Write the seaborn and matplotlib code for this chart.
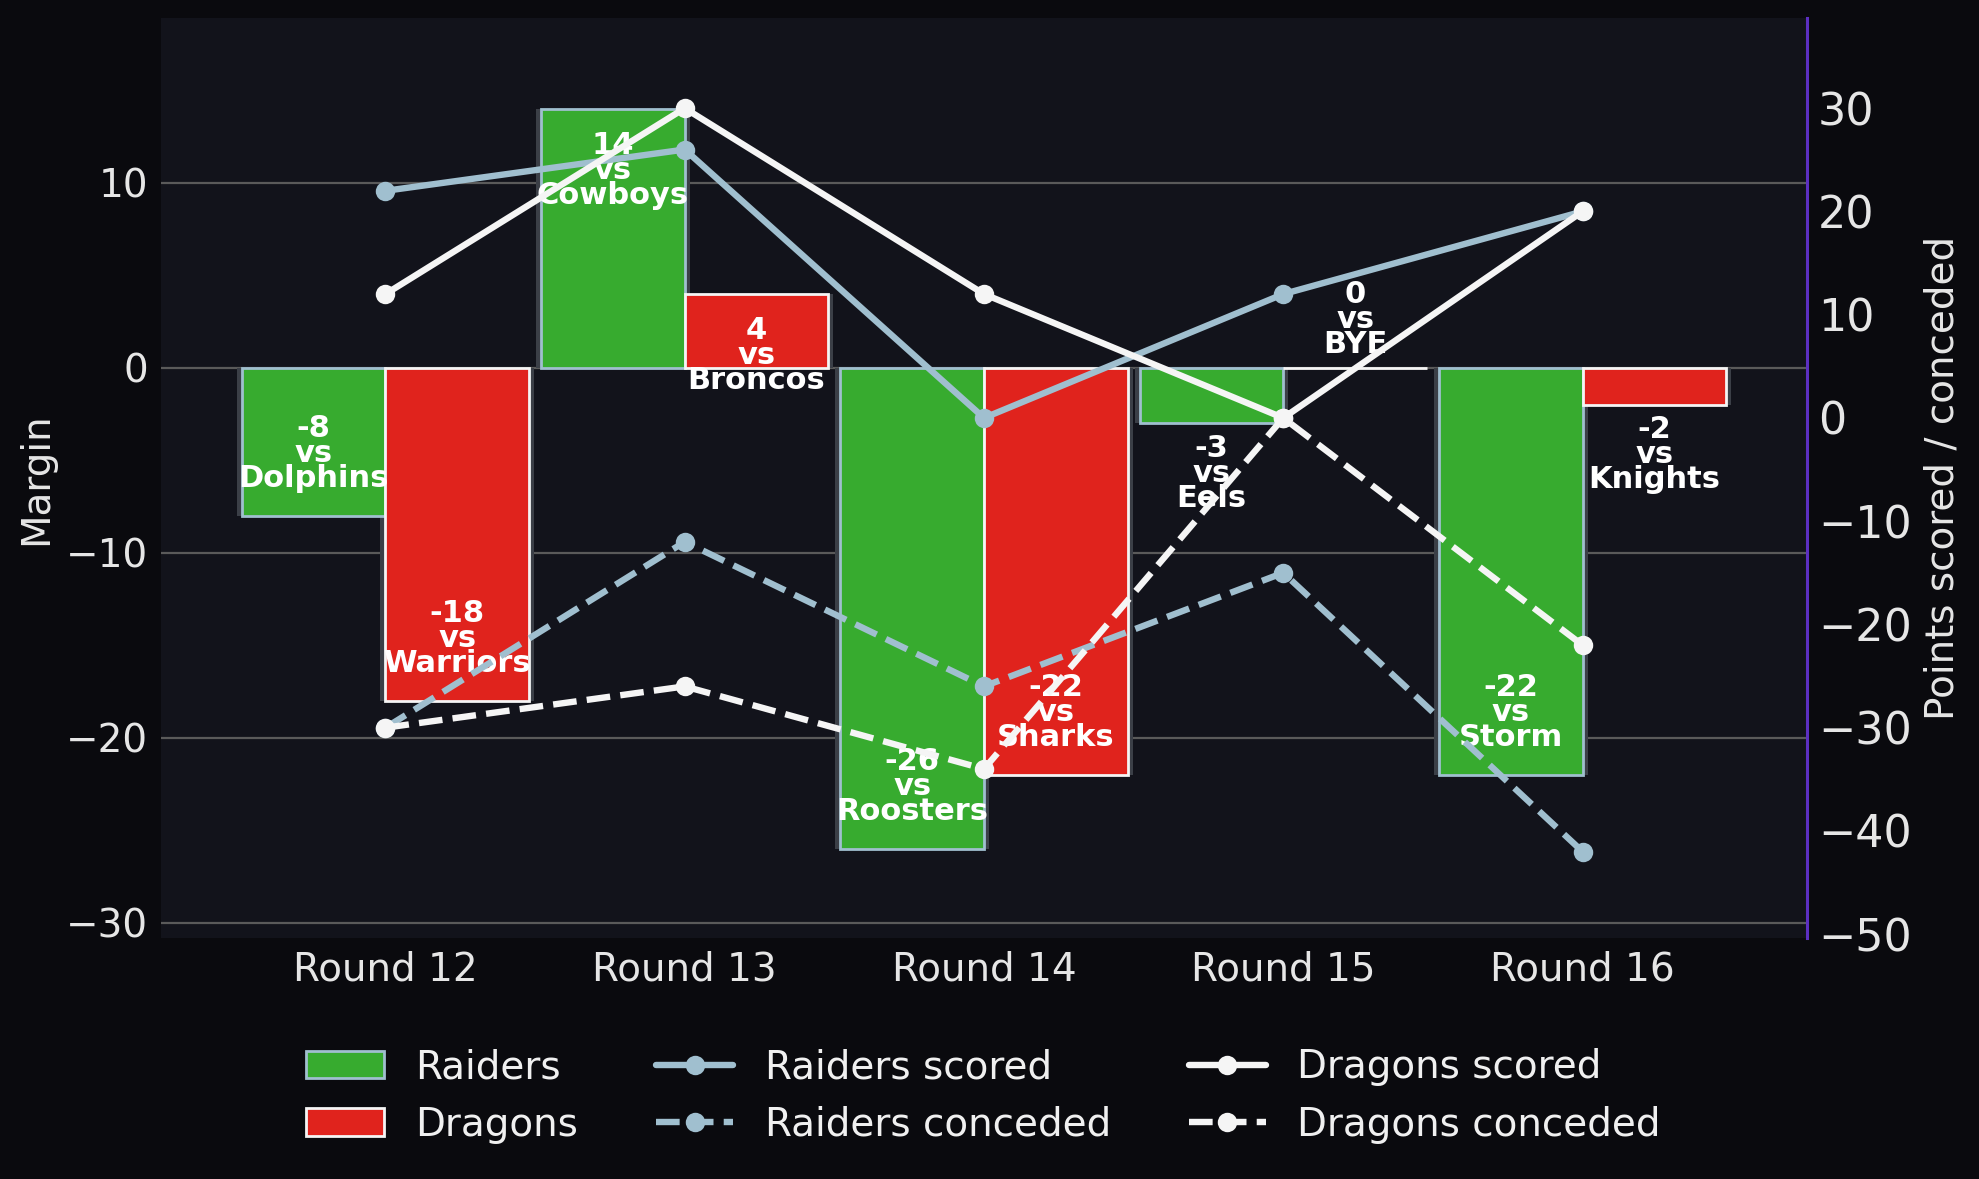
import numpy as np
import pandas as pd
import matplotlib
matplotlib.use("Agg")
import matplotlib.pyplot as plt
from matplotlib.patches import Patch, Rectangle
from matplotlib.lines import Line2D
import seaborn as sns

# data
rounds = ["Round 12", "Round 13", "Round 14", "Round 15", "Round 16"]
teams = ["Raiders", "Dragons"]
raiders_margin = [-8, 14, -26, -3, -22]
dragons_margin = [-18, 4, -22, 0, -2]
raiders_opp = ["Dolphins", "Cowboys", "Roosters", "Eels", "Storm"]
dragons_opp = ["Warriors", "Broncos", "Sharks", "BYE", "Knights"]
raiders_scored = [22, 26, 0, 12, 20]
raiders_conceded = [30, 12, 26, 15, 42]
dragons_scored = [12, 30, 12, 0, 20]
dragons_conceded = [30, 26, 34, 0, 22]

# colours
fig_bg = "#0a0a0e"
ax_bg = "#12131b"
green = "#37ab2f"
red = "#e0231d"
blue = "#a0bfcf"
white = "#f5f5f5"
shadow = "#3b3f47"
text_col = "#e6e6e6"

sns.set_theme(style="dark")
plt.rcParams["font.family"] = ["DejaVu Sans"]

df = pd.DataFrame({
    "round": rounds * 2,
    "team": ["Raiders"] * len(rounds) + ["Dragons"] * len(rounds),
    "margin": raiders_margin + dragons_margin,
    "opp": raiders_opp + dragons_opp,
})

fig = plt.figure(figsize=(1979 / 200, 1179 / 200), dpi=200, facecolor=fig_bg)
ax = fig.add_subplot(111)
fig.subplots_adjust(left=161 / 1979, right=1807 / 1979,
                    top=1 - 18.4 / 1179, bottom=1 - 938.3 / 1179)
ax.set_facecolor(ax_bg)

sns.barplot(data=df, x="round", y="margin", hue="team", order=rounds,
            hue_order=teams, palette={"Raiders": green, "Dragons": red},
            width=0.96, gap=0, errorbar=None, saturation=1, ax=ax,
            linewidth=1.0, zorder=3, legend=False)

edges = {"Raiders": blue, "Dragons": white}
for team, cont in zip(teams, ax.containers):
    sub = df[df["team"] == team]
    for patch, m, opp in zip(cont.patches, sub["margin"], sub["opp"]):
        patch.set_edgecolor(edges[team])
        # soft shadow behind each bar
        pad = 0.017
        ax.add_patch(Rectangle((patch.get_x() - pad, patch.get_y()),
                               patch.get_width() + 2 * pad, patch.get_height(),
                               facecolor=shadow, edgecolor="none", zorder=2))
        cx = patch.get_x() + patch.get_width() / 2
        if abs(m) >= 4:
            ty = m - np.sign(m) * 3.35
        elif m < 0:
            ty = m - 2.7
        else:
            ty = m + 2.6
        ax.text(cx, ty, f"{m}\nvs\n{opp}", ha="center", va="center",
                fontsize=11, fontweight="bold", color="white",
                linespacing=0.82, zorder=5)

ax.set_xlim(-0.75, 4.75)
ax.set_ylim(-30.84, 18.89)
ax.set_axisbelow(True)
ax.yaxis.grid(True, color="#5a5a5a", linewidth=0.8)
ax.xaxis.grid(False)
ax.set_xlabel("")
ax.set_ylabel("Margin", fontsize=14, color=text_col)
ax.tick_params(axis="both", length=0, pad=4.5, labelsize=14, colors=text_col)
for s in ax.spines.values():
    s.set_visible(False)

ax2 = ax.twinx()
xpos = np.arange(len(rounds))
series = [
    ("Raiders scored", raiders_scored, blue, "-", 1),
    ("Raiders conceded", raiders_conceded, blue, "--", -1),
    ("Dragons scored", dragons_scored, white, "-", 1),
    ("Dragons conceded", dragons_conceded, white, "--", -1),
]
for label, vals, col, ls, sgn in series:
    sns.lineplot(x=xpos, y=sgn * np.array(vals), ax=ax2, color=col,
                 linestyle=ls, linewidth=2.3, marker="o", markersize=7,
                 markeredgewidth=0, label=label, legend=False)

ax2.set_ylim(-50.4, 38.7)
ax2.set_yticks(range(-50, 31, 10))
ax2.set_ylabel("Points scored / conceded", fontsize=14, color=text_col)
ax2.tick_params(axis="y", length=0, pad=4, labelsize=16, colors=text_col)
ax2.grid(False)
for name, s in ax2.spines.items():
    s.set_visible(name == "right")
ax2.spines["right"].set_color("#5c2fc2")
ax2.spines["right"].set_linewidth(1.1)

handles = [
    Patch(facecolor=green, edgecolor=blue, linewidth=1.0, label="Raiders"),
    Patch(facecolor=red, edgecolor=white, linewidth=1.0, label="Dragons"),
]
for label, vals, col, ls, sgn in series:
    handles.append(Line2D([], [], color=col, linestyle=ls, linewidth=2.3,
                          marker="o", markersize=7, markeredgewidth=0,
                          label=label))
leg = fig.legend(handles=handles, loc="center", bbox_to_anchor=(0.497, 0.0705),
                 ncol=3, frameon=False, fontsize=14)
for t in leg.get_texts():
    t.set_color("#f0f0f0")

fig.savefig("out.png", dpi=200, facecolor=fig_bg)
